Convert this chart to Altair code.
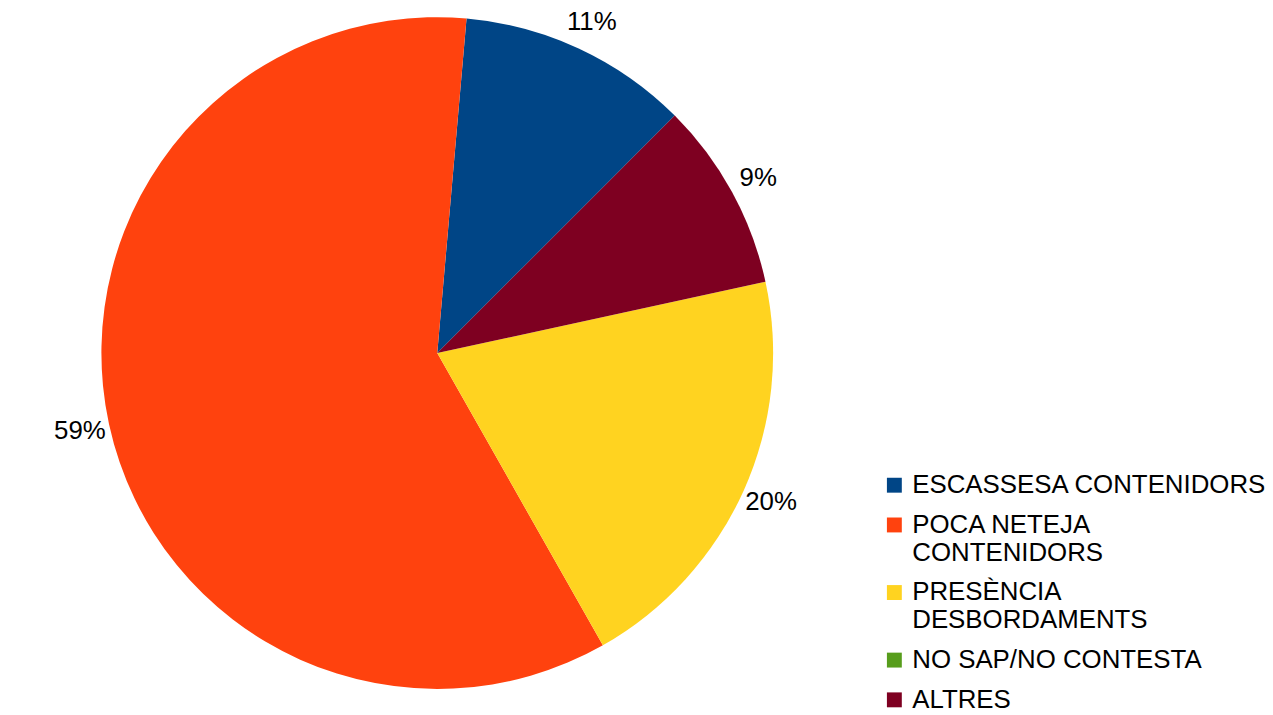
import altair as alt
import pandas as pd

categories = ["ESCASSESA CONTENIDORS", "POCA NETEJA CONTENIDORS", "PRESÈNCIA DESBORDAMENTS", "NO SAP/NO CONTESTA", "ALTRES"]
values = [11, 59, 20, 0, 9]
colors = ["#004586", "#ff420e", "#ffd320", "#579d1c", "#7e0021"]
# drawing order clockwise starting after ESCASSESA
draw_order = [5, 4, 3, 2, 1]

df = pd.DataFrame({"cat": categories, "val": values, "ord": draw_order})
df["label"] = df["val"].astype(str) + "%"

FONT = "Liberation Sans"

label_expr = ("datum.label == 'POCA NETEJA CONTENIDORS' ? ['POCA NETEJA', 'CONTENIDORS'] : "
              "datum.label == 'PRESÈNCIA DESBORDAMENTS' ? ['PRESÈNCIA', 'DESBORDAMENTS'] : datum.label")

base = alt.Chart(df).encode(
    theta=alt.Theta("val:Q", stack=True, scale=alt.Scale(range=[0.7854, 0.7854 + 6.28319])),
    order=alt.Order("ord:Q"),
    x=alt.value(432),
    y=alt.value(345),
)

pie = base.mark_arc(radius=338, stroke=None).encode(
    color=alt.Color(
        "cat:N",
        scale=alt.Scale(domain=categories, range=colors),
        legend=alt.Legend(
            title=None,
            orient="none",
            legendX=879,
            legendY=465,
            symbolType="square",
            symbolSize=225,
            symbolStrokeWidth=0,
            labelFont=FONT,
            labelFontSize=26,
            labelColor="#000000",
            labelExpr=label_expr,
            labelLimit=400,
            labelBaseline="middle",
            rowPadding=14,
            labelOffset=5,
        ),
    )
)

text = base.transform_filter("datum.val > 0").mark_text(
    radius=368, font=FONT, fontSize=26, color="#000000"
).encode(text="label:N")

chart = (pie + text).properties(
    width=1265, height=707, padding=0, autosize="none"
).configure_view(stroke=None)

chart.save("out.html", embed_options={"renderer": "svg", "actions": False})
